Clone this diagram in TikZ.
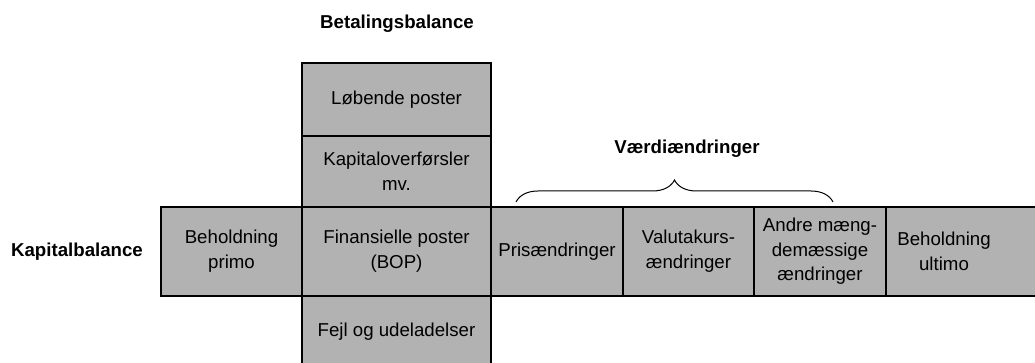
\documentclass[tikz,border=0pt]{standalone}
\usepackage{fontspec}
\setmainfont{Liberation Sans}
\usetikzlibrary{decorations.pathreplacing}
\definecolor{cellgray}{RGB}{178,178,178}
\newcommand{\px}{0.75pt}
\tikzset{
  cell/.style={draw=black, fill=cellgray, line width=1.5*\px, align=center, inner sep=0pt,
    font=\fontsize{14}{18.5}\selectfont},
  title/.style={font=\fontsize{14}{17}\selectfont\bfseries},
  brace/.style={decorate, decoration={brace, amplitude=16.5pt}, line width=1*\px},
}
\begin{document}
\begin{tikzpicture}[x=\px,y=-\px]
\useasboundingbox (0,0) rectangle (1035,363);
\clip (0,0) rectangle (1035,363);
% The row of the capital balance
\node[cell, minimum width=141*\px, minimum height=89*\px] (primo) at (231.5,251.5) {Beholdning\\primo};
\node[cell, minimum width=189*\px, minimum height=89*\px] (fin) at (396.5,251.5) {Finansielle poster\\(BOP)};
\node[cell, minimum width=132*\px, minimum height=89*\px] (pris) at (557,251.5) {Prisændringer};
\node[cell, minimum width=131*\px, minimum height=89*\px] (valuta) at (688.5,251.5) {Valutakurs-\\ændringer};
\node[cell, minimum width=132*\px, minimum height=89*\px] (andre) at (820,251.5) {Andre mæng-\\demæssige\\ændringer};
% Last cell runs off the right edge, so draw the box and put the text on it
\draw[cell] (886,207) rectangle (1050,296);
\node[cell, draw=none, fill=none] (ultimo) at (944,251.5) {Beholdning\\ultimo};
% The column of the balance of payments
\node[cell, minimum width=189*\px, minimum height=73*\px] (loeb) at (396.5,99.5) {Løbende poster};
\node[cell, minimum width=189*\px, minimum height=71*\px] (kapo) at (396.5,171.5) {Kapitaloverførsler\\mv.};
\node[cell, minimum width=189*\px, minimum height=71*\px] (fejl) at (396.5,331.5) {Fejl og udeladelser};
% Headings
\node[title] (betal) at (397,24) {Betalingsbalance};
\node[title] (kapbal) at (77,252) {Kapitalbalance};
\node[title] (vaerdi) at (687,149) {Værdiændringer};
% Brace over the value changes
\coordinate (bl) at (516,202);
\coordinate (br) at (833,202);
\draw[brace] (bl) -- (br);
\end{tikzpicture}
\end{document}
